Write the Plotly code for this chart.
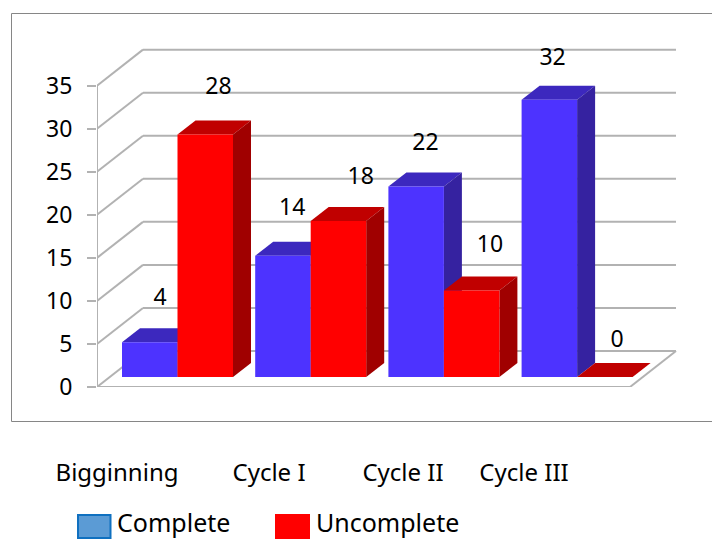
import plotly.graph_objects as go

# ---- data ----
categories = ["Bigginning", "Cycle I", "Cycle II", "Cycle III"]
complete = [4, 14, 22, 32]
uncomplete = [28, 18, 10, 0]
y_ticks = [0, 5, 10, 15, 20, 25, 30, 35]

# ---- layout constants (pixels of the 712x539 page) ----
W, H = 712, 539
PL, PR, PT, PB = 97, 682, 40, 387      # plot area
X0_PX, X_STEP = 177.5, 133.2           # first category's centre, category step
Y_STEP = 8.61                          # px per value unit
BAR_W = 55.5 / X_STEP
BASE = 10 / Y_STEP                     # bars stand 10px in front of the back of the floor
BAR_K = 1.006
DX, DY = 18 / X_STEP, 14 / Y_STEP      # bar depth
WX, WY = 46 / X_STEP, 36 / Y_STEP      # wall depth
FLOOR_RIGHT = (630 - X0_PX) / X_STEP

xmin = (PL - X0_PX) / X_STEP
xmax = (PR - X0_PX) / X_STEP
ymax = (PB - PT) / Y_STEP
idx = list(range(len(categories)))

GRID = "#B2B2B2"
BLUE, BLUE_TOP, BLUE_SIDE = "#4D33FF", "#3C28BE", "#3522A0"
RED, RED_TOP, RED_SIDE = "#FF0000", "#C00000", "#A00000"

# nudges of data labels, relative to the bars (px)
C_LIFT = [43, 46, 42, 41]
U_LIFT = [46, 43, 44, 36]
C_NUDGE = [38, 37, 37, 31]
U_NUDGE = [41, 50, 46, 40]
CAT_PX = [117, 269, 403, 524]


def px(x):
    return (x - PL) / (PR - PL)


def py(y):
    return (PB - y) / (PB - PT)


def poly(points, color, width=0, line=None):
    path = "M " + " L ".join(f"{a},{b}" for a, b in points) + " Z"
    return dict(type="path", path=path, xref="x", yref="y", layer="below",
                fillcolor=color, line=dict(width=width, color=line or color))


def seg(x0, y0, x1, y1):
    return dict(type="line", x0=x0, y0=y0, x1=x1, y1=y1, xref="x", yref="y", layer="below",
                line=dict(color=GRID, width=2))


shapes = []
# outer frame
shapes.append(dict(type="rect", xref="paper", yref="paper", layer="below",
                   x0=px(11.5), x1=px(714), y0=py(421.5), y1=py(13.5),
                   line=dict(color="#868686", width=1)))
# wall grid
for t in y_ticks:
    shapes.append(seg(xmin, t, xmin + WX, t + WY))
    shapes.append(seg(xmin + WX, t + WY, FLOOR_RIGHT + WX, t + WY))
# floor and left axis
shapes.append(seg(xmin, 0, FLOOR_RIGHT, 0))
shapes.append(seg(FLOOR_RIGHT, 0, FLOOR_RIGHT + WX, WY))
shapes.append(seg(xmin, 0, xmin, y_ticks[-1]))


def depth(left, value, top_c, side_c):
    right = left + BAR_W
    low, high = BASE, BASE + value * BAR_K
    faces = [poly([(left, high), (right, high), (right + DX, high + DY), (left + DX, high + DY)], top_c)]
    if value > 0:
        faces.append(poly([(right, low), (right + DX, low + DY), (right + DX, high + DY), (right, high)], side_c))
    return faces


for i in idx:
    shapes += depth(i - BAR_W, complete[i], BLUE_TOP, BLUE_SIDE)
    shapes += depth(i, uncomplete[i], RED_TOP, RED_SIDE)

# legend swatches
shapes.append(dict(type="rect", xref="paper", yref="paper", x0=px(78), x1=px(110.5), y0=py(538), y1=py(515),
                   fillcolor="#5B9BD5", line=dict(color="#0F70C0", width=2)))
shapes.append(dict(type="rect", xref="paper", yref="paper", x0=px(275), x1=px(310), y0=py(539), y1=py(514),
                   fillcolor="#FF0000", line=dict(width=0)))

FONT = dict(family="Noto Sans, sans-serif", size=23, color="#000000")
CAT_FONT = dict(FONT, size=24)
LEG_FONT = dict(FONT, size=25)

fig = go.Figure()
fig.add_trace(go.Bar(name="Complete", x=idx, y=[v * BAR_K for v in complete], base=BASE, width=BAR_W, offset=-BAR_W,
                     marker=dict(color=BLUE, line=dict(width=0)), hoverinfo="skip"))
fig.add_trace(go.Bar(name="Uncomplete", x=idx, y=[v * BAR_K for v in uncomplete], base=BASE, width=BAR_W, offset=0,
                     marker=dict(color=RED, line=dict(width=0)), hoverinfo="skip"))

lab_x, lab_y, lab_t = [], [], []
for i in idx:
    lab_x.append(i - BAR_W + C_NUDGE[i] / X_STEP)
    lab_y.append(BASE + complete[i] * BAR_K + C_LIFT[i] / Y_STEP)
    lab_t.append(str(complete[i]))
    lab_x.append(i + U_NUDGE[i] / X_STEP)
    lab_y.append(BASE + uncomplete[i] * BAR_K + U_LIFT[i] / Y_STEP)
    lab_t.append(str(uncomplete[i]))
fig.add_trace(go.Scatter(x=lab_x, y=lab_y, text=lab_t, mode="text", textposition="middle center",
                         textfont=FONT, showlegend=False, hoverinfo="skip", cliponaxis=False))

annotations = [
    dict(text="Complete", xref="paper", yref="paper", x=px(115), y=py(521.5), xanchor="left", yanchor="middle",
         showarrow=False, font=LEG_FONT),
    dict(text="Uncomplete", xref="paper", yref="paper", x=px(314), y=py(521.5), xanchor="left", yanchor="middle",
         showarrow=False, font=LEG_FONT),
]

fig.update_layout(
    width=W, height=H, autosize=False, showlegend=False, barmode="overlay",
    margin=dict(l=PL, r=W - PR, t=PT, b=H - PB, pad=0),
    paper_bgcolor="white", plot_bgcolor="rgba(0,0,0,0)",
    font=FONT, shapes=shapes, annotations=annotations,
    xaxis=dict(range=[xmin, xmax], showgrid=False, zeroline=False, showline=False, ticks="",
               tickmode="array", tickvals=[(p - X0_PX) / X_STEP for p in CAT_PX], ticktext=categories,
               ticklabelstandoff=69, tickfont=CAT_FONT, fixedrange=True),
    yaxis=dict(range=[0, ymax], showgrid=False, zeroline=False, showline=False,
               tickmode="array", tickvals=y_ticks, ticks="outside", ticklen=9, tickcolor=GRID, tickwidth=2,
               ticklabelstandoff=10, tickfont=FONT, fixedrange=True),
)

fig.write_html("out.html", config={"displayModeBar": False},
               post_script="document.body.style.margin='0';")
